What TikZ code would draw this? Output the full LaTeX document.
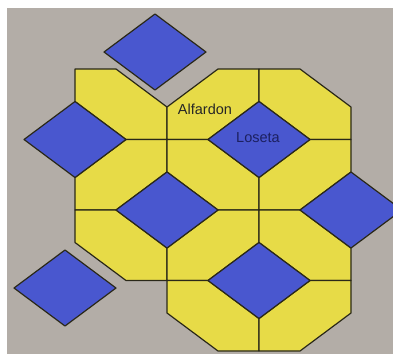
\documentclass[tikz,border=0pt]{standalone}
\usepackage{fontspec}
\setmainfont{Liberation Sans}
\definecolor{tilegray}{HTML}{B3ADA7}
\definecolor{alfyellow}{HTML}{E7DB47}
\definecolor{losblue}{HTML}{4957CF}
\definecolor{groutink}{HTML}{2A2818}
\definecolor{navyink}{HTML}{1C2060}
\newcommand{\alfardon}[3]{\filldraw[alfpiece,shift={(#1,#2)},yscale=#3] (51,0) -- (0,38) -- (0,70.5) -- (41,70.5) -- (92,32.5) -- (92,0) -- cycle;}
\newcommand{\loseta}[2]{\filldraw[lospiece,shift={(#1,#2)}] (-51,0) -- (0,-38) -- (51,0) -- (0,38) -- cycle;}

\begin{document}
\begin{tikzpicture}[x=1pt,y=-1pt,
  alfpiece/.style={fill=alfyellow,draw=groutink,line width=1.2pt,line join=round},
  lospiece/.style={fill=losblue,draw=groutink,line width=1.2pt,line join=round},
  tag/.style={font=\fontsize{14.5}{14.5}\selectfont,inner sep=0pt}]
  \useasboundingbox (0,0) rectangle (393,354);
  \clip (0,0) rectangle (393,354);
  \fill[tilegray] (7,8) rectangle (393,354);
  \foreach \cx/\cy/\s in {75/139.5/-1,167/69/1,259/139.5/-1,75/139.5/1,167/210/-1,259/139.5/1,75/280.5/-1,167/210/1,259/280.5/-1,167/351/-1,259/280.5/1}{
    \alfardon{\cx}{\cy}{\s}
  }
  \foreach \cx/\cy in {75/139.5,259/139.5,167/210,351/210,259/280.5,155/52,65/288}{
    \loseta{\cx}{\cy}
  }
  \node[tag,text=black!85] (alfardon) at (205,109) {Alfardon};
  \node[tag,text=navyink] (loseta) at (258,138) {Loseta};
\end{tikzpicture}
\end{document}
